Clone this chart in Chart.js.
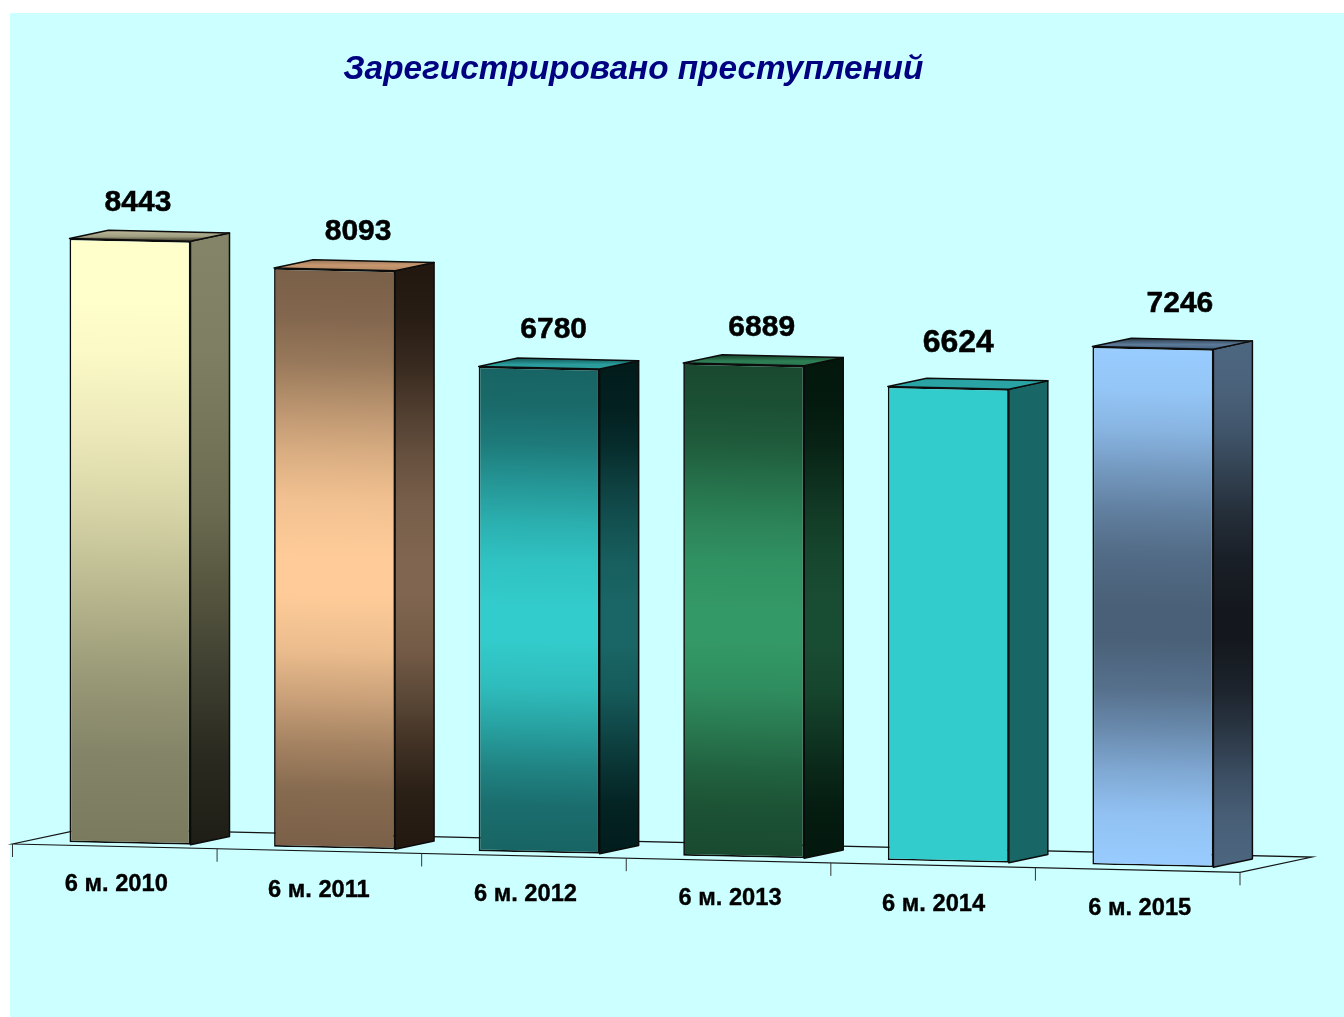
<!DOCTYPE html>
<html><head><meta charset="utf-8">
<style>html,body{margin:0;padding:0;background:#fff}canvas{display:block}</style>
<script src="https://cdn.jsdelivr.net/npm/chart.js@4/dist/chart.umd.min.js"></script>
</head><body><canvas id="c" width="1344" height="1017"></canvas>
<script>
const titleText = 'Зарегистрировано преступлений';
const categories = ['6 м. 2010','6 м. 2011','6 м. 2012','6 м. 2013','6 м. 2014','6 м. 2015'];
const crimes = [8443, 8093, 6780, 6889, 6624, 7246];
const yMax = 9000;

// bell-shaped shading used by the banded bar faces
const bellAt = [0,.08,.16,.24,.32,.4,.5,.56,.66,.74,.82,.9,1];
const bellMix = [0,.06,.22,.48,.72,.9,1,1,.85,.6,.32,.1,0];
function bell(a, b){
  const A=[1,3,5].map(i=>parseInt(a.substr(i,2),16)), B=[1,3,5].map(i=>parseInt(b.substr(i,2),16));
  return bellAt.map((t,i)=>[t,'rgb('+A.map((v,k)=>Math.round(v+(B[k]-v)*bellMix[i])).join(',')+')']);
}
const frontStops = [
  [[0,'#FFFFCC'],[.1,'#FFFFCC'],[.19,'#FBF9C6'],[.32,'#ECE8BA'],[.45,'#D6D4A6'],[.58,'#B9B88F'],[.72,'#9A9A78'],[.85,'#848468'],[1,'#7A7A5E']],
  bell('#7A6048','#FFCC99'),
  bell('#186464','#33CCCC'),
  bell('#194A30','#339966'),
  [[0,'#33CCCC'],[1,'#33CCCC']],
  bell('#99CCFF','#4A6078')
];
const sideStops = [
  [[0,'#848468'],[.19,'#7E7E62'],[.32,'#75755A'],[.45,'#6A6A50'],[.58,'#55553F'],[.72,'#3E3E30'],[.85,'#2A2A20'],[1,'#1E1E16']],
  bell('#221810','#806650'),
  bell('#021C1C','#1A6666'),
  bell('#03170D','#194D33'),
  [[0,'#196666'],[1,'#196666']],
  bell('#4D6680','#14181E')
];
const topStops = [
  [[0,'#B8B596'],[.6,'#A09E80'],[1,'#55533F']],
  [[0,'#A07C5C'],[.5,'#C89870'],[1,'#B88C66']],
  [[0,'#186464'],[.6,'#2A9C9C'],[1,'#2A9C9C']],
  [[0,'#194A30'],[.6,'#2E8055'],[1,'#2A7850']],
  [[0,'#29A3A3'],[1,'#29A3A3']],
  [[0,'#34465A'],[.6,'#5C7A98'],[1,'#4A6888']]
];
const labelNudgeX = [8, 23.5, 14.5, 18, 10, 27];
const labelNudgeY = [-37, -37.5, -37.5, -37, -44.5, -44];
const labelFontPx = [30, 30, 30, 30, 32, 30];
const tickNudgeX = [0, -2, 0, 0, -1, 0.5];
const tickNudgeY = [-1, 1, 0, -1, 1, 0];

// projection constants
const barK = 0.0219, floorK = 0.0231, anchorX = 69.5, shiftX = 15.2;
const depth = {x: 39, y: -8.3};
const floorDepth = {x: 72, y: -15.3};
const font = 'Arial, "Liberation Sans", sans-serif';

function proj(x, y){ const dx = x + shiftX; return {x: dx, y: y + barK * (dx - anchorX)}; }
function grad(ctx, x0, y0, x1, y1, stops){
  const g = ctx.createLinearGradient(x0, y0, x1, y1);
  stops.forEach(s => g.addColorStop(s[0], s[1]));
  return g;
}
function poly(ctx, pts, fill){
  ctx.beginPath();
  pts.forEach((p,i)=> i ? ctx.lineTo(p.x,p.y) : ctx.moveTo(p.x,p.y));
  ctx.closePath();
  ctx.fillStyle = fill; ctx.fill();
  ctx.lineWidth = 1.5; ctx.strokeStyle = '#0c0c0c'; ctx.lineJoin='round'; ctx.stroke();
}
function boldText(c, t, x, y, w){
  c.fillText(t, x, y);
  c.lineWidth = w; c.strokeStyle = '#000'; c.strokeText(t, x, y);
}

const scene = {
  id: 'scene',
  afterLayout(chart){
    chart.titleBlock.left += 7; chart.titleBlock.right += 7;
  },
  beforeDraw(chart){
    const c = chart.ctx;
    c.save();
    c.fillStyle = '#fff'; c.fillRect(0,0,chart.width,chart.height);
    c.fillStyle = '#CCFFFF'; c.fillRect(10,13,chart.width-10,1004);
    c.restore();
  },
  beforeDatasetsDraw(chart){
    const c = chart.ctx, xs = chart.scales.x, ys = chart.scales.y;
    const band = xs.getPixelForValue(1) - xs.getPixelForValue(0);
    const left = xs.getPixelForValue(0) - band/2;
    const base = ys.getPixelForValue(0) + 1.8;
    const fy = x => base + floorK * (x - left);
    const n = categories.length, right = left + band*n;
    c.save();
    c.strokeStyle = '#141414'; c.lineWidth = 1.2;
    c.beginPath();
    c.moveTo(left, fy(left)); c.lineTo(right, fy(right));
    c.lineTo(right+floorDepth.x, fy(right)+floorDepth.y);
    c.lineTo(left+floorDepth.x, fy(left)+floorDepth.y);
    c.closePath(); c.stroke();
    c.strokeStyle = '#333'; c.lineWidth = 1; c.beginPath();
    for(let i=0;i<=n;i++){ const x = left + band*i; c.moveTo(x, fy(x)); c.lineTo(x, fy(x)+13); }
    c.stroke();
    c.fillStyle = '#000'; c.font = 'bold 23.7px '+font; c.textAlign='center'; c.textBaseline='middle';
    categories.forEach((t,i)=>{
      const x = xs.getPixelForValue(i) + 1.5 + tickNudgeX[i];
      boldText(c, t, x, 885 + floorK*(x-116) + tickNudgeY[i], 0.35);
    });
    // side and top faces
    chart.getDatasetMeta(0).data.forEach((b,i)=>{
      const hw = b.width/2;
      const tl = proj(b.x-hw,b.y), tr = proj(b.x+hw,b.y), br = proj(b.x+hw,b.base);
      const add = p => ({x:p.x+depth.x,y:p.y+depth.y});
      poly(c,[tr,add(tr),add(br),br],grad(c,0,tr.y,0,br.y,sideStops[i]));
      const mx=(tl.x+tr.x)/2,my=(tl.y+tr.y)/2;
      poly(c,[tl,add(tl),add(tr),tr],grad(c,mx,my+depth.y,mx,my,topStops[i]));
    });
    c.restore();
    // front plane: same skew as the floor
    c.save();
    c.transform(1,barK,0,1,shiftX,barK*(shiftX-anchorX));
  },
  afterDatasetsDraw(chart){
    const c = chart.ctx;
    c.restore();
    c.save();
    c.fillStyle='#000'; c.textAlign='center'; c.textBaseline='middle';
    chart.getDatasetMeta(0).data.forEach((b,i)=>{
      const p = proj(b.x,b.y);
      c.font='bold '+labelFontPx[i]+'px '+font;
      boldText(c, String(crimes[i]), p.x+labelNudgeX[i], p.y+labelNudgeY[i], 0.5);
    });
    c.restore();
  }
};

new Chart(document.getElementById('c'),{
  type:'bar',
  data:{labels:categories,datasets:[{
    data:crimes, clip:false,
    categoryPercentage:1, barPercentage:0.5914,
    borderWidth:1.7, borderColor:'#0c0c0c', borderSkipped:false,
    backgroundColor(ctx){
      const chart=ctx.chart;
      if(!chart.chartArea||ctx.dataIndex===undefined) return '#888';
      const y=chart.scales.y;
      return grad(chart.ctx,0,y.getPixelForValue(crimes[ctx.dataIndex]),0,y.getPixelForValue(0),frontStops[ctx.dataIndex]);
    }
  }]},
  options:{
    responsive:false, animation:false, devicePixelRatio:1,
    layout:{padding:{left:12.5,right:104,top:0,bottom:174.8}},
    scales:{
      x:{display:false,grid:{display:false}},
      y:{display:false,min:0,max:yMax,grid:{display:false}}
    },
    plugins:{
      legend:{display:false},tooltip:{enabled:false},
      title:{display:true,text:titleText,fullSize:false,color:'#000080',
        font:{family:font,size:33.35,weight:'bold',style:'italic'},
        padding:{top:50,bottom:108.7}}
    }
  },
  plugins:[scene]
});
</script></body></html>
